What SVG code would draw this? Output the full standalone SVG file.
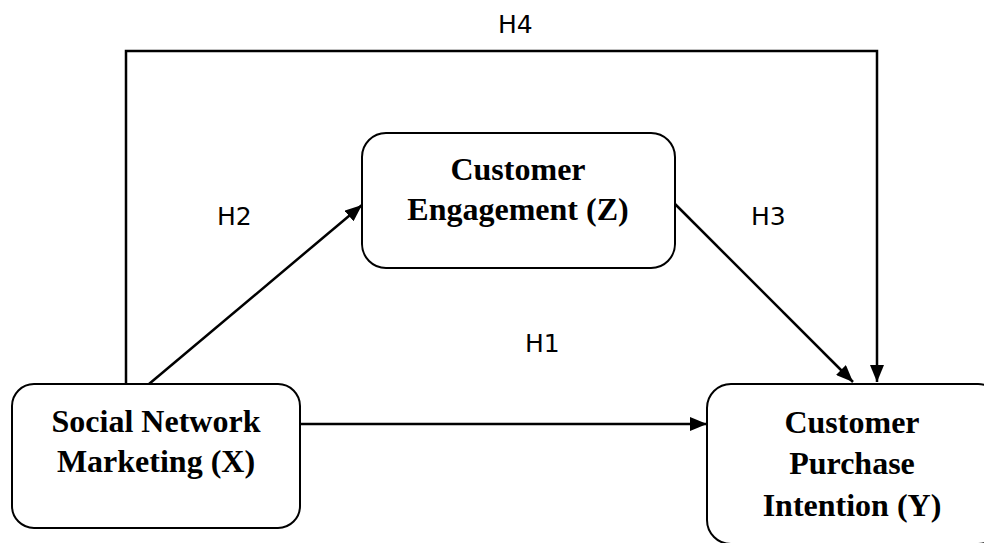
<svg xmlns="http://www.w3.org/2000/svg" width="984" height="543" viewBox="0 0 984 543">
<style>
.box{fill:#fff;stroke:#000;stroke-width:2}
.lbl{font-family:"Liberation Serif","Times New Roman",serif;font-weight:bold;font-size:32px;fill:#000;text-anchor:middle}
.h{font-family:"DejaVu Sans",Verdana,sans-serif;font-size:25px;fill:#000}
.c{fill:none;stroke:#000;stroke-width:2.5}
</style>
<defs>
<marker id="arr" markerUnits="userSpaceOnUse" markerWidth="18" markerHeight="14" refX="17" refY="7" orient="auto">
<path d="M0,0 L17,7 L0,14 Z" fill="#000"/>
</marker>
</defs>
<rect width="984" height="543" fill="#fff"/>
<g id="connectors">
<polyline class="c" points="126,383 126,51 877,51 877,382" marker-end="url(#arr)"/>
<line class="c" x1="149" y1="384" x2="362" y2="205" marker-end="url(#arr)"/>
<line class="c" x1="674" y1="203" x2="853" y2="382" marker-end="url(#arr)"/>
<line class="c" x1="300" y1="424" x2="707" y2="424" marker-end="url(#arr)"/>
</g>
<g id="labels">
<text class="h" x="498" y="33">H4</text>
<text class="h" x="217" y="225">H2</text>
<text class="h" x="751" y="225">H3</text>
<text class="h" x="525" y="352">H1</text>
</g>
<g id="nodeX">
<rect class="box" x="12" y="384" width="288" height="144" rx="22"/>
<text class="lbl" x="156" y="432">Social Network</text>
<text class="lbl" x="156" y="472">Marketing (X)</text>
</g>
<g id="nodeZ">
<rect class="box" x="362" y="133" width="313" height="135" rx="24"/>
<text class="lbl" x="518" y="180">Customer</text>
<text class="lbl" x="518" y="220">Engagement (Z)</text>
</g>
<g id="nodeY">
<rect class="box" x="707" y="384" width="295" height="160" rx="24"/>
<text class="lbl" x="852" y="433">Customer</text>
<text class="lbl" x="852" y="474">Purchase</text>
<text class="lbl" x="852" y="516">Intention (Y)</text>
</g>
</svg>
